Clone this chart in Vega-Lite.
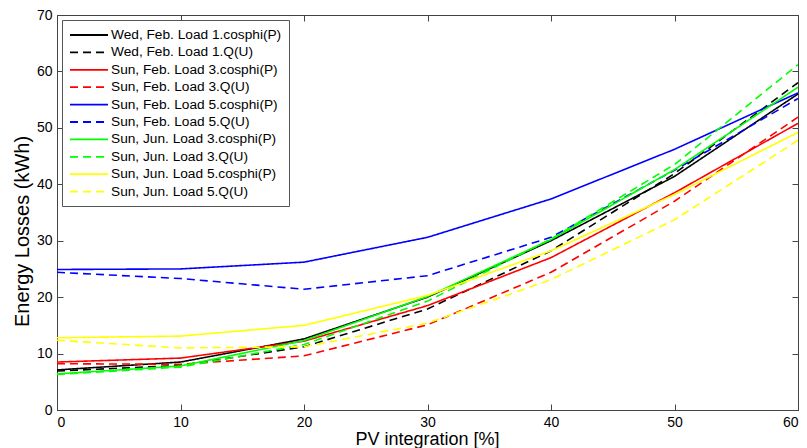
{
  "$schema": "https://vega.github.io/schema/vega-lite/v6.json",
  "width": 741,
  "height": 395,
  "autosize": {"type": "none"},
  "padding": {"left": 57, "top": 15, "right": 9, "bottom": 38},
  "background": "white",
  "config": {
    "font": "Liberation Sans",
    "view": {"stroke": "#444", "strokeWidth": 1},
    "axis": {"grid": false, "domainColor": "#444", "tickColor": "#444", "labelColor": "black", "titleColor": "black", "labelFont": "Liberation Sans", "titleFont": "Liberation Sans", "titleFontWeight": "normal", "labelFontSize": 14, "titleFontSize": 18},
    "legend": {"title": null, "orient": "none", "legendX": 5, "legendY": 5, "symbolType": "M-1,0H4.43", "symbolSize": 196, "symbolStrokeWidth": 1.8, "labelFontSize": 13.7, "labelFont": "Liberation Sans", "labelColor": "black", "rowPadding": 2.4, "padding": 7, "strokeColor": "#555", "fillColor": "white", "labelOffset": 26, "labelLimit": 300}
  },
  "data": {"values": [
    {"x": 0, "series": "Wed, Feb. Load 1.cosphi(P)", "y": 7.1},
    {"x": 10, "series": "Wed, Feb. Load 1.cosphi(P)", "y": 8.5},
    {"x": 20, "series": "Wed, Feb. Load 1.cosphi(P)", "y": 12.6},
    {"x": 30, "series": "Wed, Feb. Load 1.cosphi(P)", "y": 20.0},
    {"x": 40, "series": "Wed, Feb. Load 1.cosphi(P)", "y": 30.0},
    {"x": 50, "series": "Wed, Feb. Load 1.cosphi(P)", "y": 41.4},
    {"x": 60, "series": "Wed, Feb. Load 1.cosphi(P)", "y": 56.0},
    {"x": 0, "series": "Wed, Feb. Load 1.Q(U)", "y": 6.9},
    {"x": 10, "series": "Wed, Feb. Load 1.Q(U)", "y": 7.9},
    {"x": 20, "series": "Wed, Feb. Load 1.Q(U)", "y": 11.2},
    {"x": 30, "series": "Wed, Feb. Load 1.Q(U)", "y": 17.9},
    {"x": 40, "series": "Wed, Feb. Load 1.Q(U)", "y": 28.2},
    {"x": 50, "series": "Wed, Feb. Load 1.Q(U)", "y": 41.9},
    {"x": 60, "series": "Wed, Feb. Load 1.Q(U)", "y": 58.0},
    {"x": 0, "series": "Sun, Feb. Load 3.cosphi(P)", "y": 8.5},
    {"x": 10, "series": "Sun, Feb. Load 3.cosphi(P)", "y": 9.2},
    {"x": 20, "series": "Sun, Feb. Load 3.cosphi(P)", "y": 12.2},
    {"x": 30, "series": "Sun, Feb. Load 3.cosphi(P)", "y": 18.5},
    {"x": 40, "series": "Sun, Feb. Load 3.cosphi(P)", "y": 27.0},
    {"x": 50, "series": "Sun, Feb. Load 3.cosphi(P)", "y": 38.5},
    {"x": 60, "series": "Sun, Feb. Load 3.cosphi(P)", "y": 50.8},
    {"x": 0, "series": "Sun, Feb. Load 3.Q(U)", "y": 8.2},
    {"x": 10, "series": "Sun, Feb. Load 3.Q(U)", "y": 8.1},
    {"x": 20, "series": "Sun, Feb. Load 3.Q(U)", "y": 9.6},
    {"x": 30, "series": "Sun, Feb. Load 3.Q(U)", "y": 15.1},
    {"x": 40, "series": "Sun, Feb. Load 3.Q(U)", "y": 24.4},
    {"x": 50, "series": "Sun, Feb. Load 3.Q(U)", "y": 37.0},
    {"x": 60, "series": "Sun, Feb. Load 3.Q(U)", "y": 51.9},
    {"x": 0, "series": "Sun, Feb. Load 5.cosphi(P)", "y": 24.9},
    {"x": 10, "series": "Sun, Feb. Load 5.cosphi(P)", "y": 25.0},
    {"x": 20, "series": "Sun, Feb. Load 5.cosphi(P)", "y": 26.2},
    {"x": 30, "series": "Sun, Feb. Load 5.cosphi(P)", "y": 30.6},
    {"x": 40, "series": "Sun, Feb. Load 5.cosphi(P)", "y": 37.4},
    {"x": 50, "series": "Sun, Feb. Load 5.cosphi(P)", "y": 46.2},
    {"x": 60, "series": "Sun, Feb. Load 5.cosphi(P)", "y": 56.2},
    {"x": 0, "series": "Sun, Feb. Load 5.Q(U)", "y": 24.4},
    {"x": 10, "series": "Sun, Feb. Load 5.Q(U)", "y": 23.3},
    {"x": 20, "series": "Sun, Feb. Load 5.Q(U)", "y": 21.4},
    {"x": 30, "series": "Sun, Feb. Load 5.Q(U)", "y": 23.8},
    {"x": 40, "series": "Sun, Feb. Load 5.Q(U)", "y": 30.6},
    {"x": 50, "series": "Sun, Feb. Load 5.Q(U)", "y": 42.5},
    {"x": 60, "series": "Sun, Feb. Load 5.Q(U)", "y": 55.2},
    {"x": 0, "series": "Sun, Jun. Load 3.cosphi(P)", "y": 6.4},
    {"x": 10, "series": "Sun, Jun. Load 3.cosphi(P)", "y": 7.8},
    {"x": 20, "series": "Sun, Jun. Load 3.cosphi(P)", "y": 12.3},
    {"x": 30, "series": "Sun, Jun. Load 3.cosphi(P)", "y": 20.1},
    {"x": 40, "series": "Sun, Jun. Load 3.cosphi(P)", "y": 30.2},
    {"x": 50, "series": "Sun, Jun. Load 3.cosphi(P)", "y": 42.6},
    {"x": 60, "series": "Sun, Jun. Load 3.cosphi(P)", "y": 57.2},
    {"x": 0, "series": "Sun, Jun. Load 3.Q(U)", "y": 6.3},
    {"x": 10, "series": "Sun, Jun. Load 3.Q(U)", "y": 7.6},
    {"x": 20, "series": "Sun, Jun. Load 3.Q(U)", "y": 11.6},
    {"x": 30, "series": "Sun, Jun. Load 3.Q(U)", "y": 19.3},
    {"x": 40, "series": "Sun, Jun. Load 3.Q(U)", "y": 30.3},
    {"x": 50, "series": "Sun, Jun. Load 3.Q(U)", "y": 43.5},
    {"x": 60, "series": "Sun, Jun. Load 3.Q(U)", "y": 61.2},
    {"x": 0, "series": "Sun, Jun. Load 5.cosphi(P)", "y": 12.8},
    {"x": 10, "series": "Sun, Jun. Load 5.cosphi(P)", "y": 13.1},
    {"x": 20, "series": "Sun, Jun. Load 5.cosphi(P)", "y": 15.0},
    {"x": 30, "series": "Sun, Jun. Load 5.cosphi(P)", "y": 20.3},
    {"x": 40, "series": "Sun, Jun. Load 5.cosphi(P)", "y": 28.2},
    {"x": 50, "series": "Sun, Jun. Load 5.cosphi(P)", "y": 38.2},
    {"x": 60, "series": "Sun, Jun. Load 5.cosphi(P)", "y": 49.2},
    {"x": 0, "series": "Sun, Jun. Load 5.Q(U)", "y": 12.35},
    {"x": 10, "series": "Sun, Jun. Load 5.Q(U)", "y": 11.0},
    {"x": 20, "series": "Sun, Jun. Load 5.Q(U)", "y": 11.2},
    {"x": 30, "series": "Sun, Jun. Load 5.Q(U)", "y": 15.4},
    {"x": 40, "series": "Sun, Jun. Load 5.Q(U)", "y": 23.1},
    {"x": 50, "series": "Sun, Jun. Load 5.Q(U)", "y": 33.7},
    {"x": 60, "series": "Sun, Jun. Load 5.Q(U)", "y": 47.8}
  ]},
  "layer": [
    {
      "mark": {"type": "line", "strokeWidth": 1.6, "clip": true},
      "encoding": {
        "x": {"field": "x", "type": "quantitative", "scale": {"domain": [0, 60], "nice": false, "zero": false},
              "axis": {"orient": "bottom", "values": [0, 10, 20, 30, 40, 50, 60], "tickSize": -6, "labelPadding": 11, "title": "PV integration [%]", "titleX": 370, "titleY": 29, "titleBaseline": "middle", "titleAlign": "center"}},
        "y": {"field": "y", "type": "quantitative", "scale": {"domain": [0, 70], "nice": false},
              "axis": {"orient": "left", "values": [0, 10, 20, 30, 40, 50, 60, 70], "tickSize": -6, "labelPadding": 11, "title": "Energy Losses (kWh)", "titleAngle": -90, "titleX": -35, "titleY": 216, "titleBaseline": "middle", "titleAlign": "center", "titleFontSize": 20}},
        "color": {"field": "series", "type": "nominal",
          "scale": {"domain": ["Wed, Feb. Load 1.cosphi(P)", "Wed, Feb. Load 1.Q(U)", "Sun, Feb. Load 3.cosphi(P)", "Sun, Feb. Load 3.Q(U)", "Sun, Feb. Load 5.cosphi(P)", "Sun, Feb. Load 5.Q(U)", "Sun, Jun. Load 3.cosphi(P)", "Sun, Jun. Load 3.Q(U)", "Sun, Jun. Load 5.cosphi(P)", "Sun, Jun. Load 5.Q(U)"],
                    "range": ["#000000", "#000000", "#ff0000", "#ff0000", "#0000ff", "#0000ff", "#00ff00", "#00ff00", "#ffff00", "#ffff00"]}},
        "strokeDash": {"field": "series", "type": "nominal",
          "scale": {"domain": ["Wed, Feb. Load 1.cosphi(P)", "Wed, Feb. Load 1.Q(U)", "Sun, Feb. Load 3.cosphi(P)", "Sun, Feb. Load 3.Q(U)", "Sun, Feb. Load 5.cosphi(P)", "Sun, Feb. Load 5.Q(U)", "Sun, Jun. Load 3.cosphi(P)", "Sun, Jun. Load 3.Q(U)", "Sun, Jun. Load 5.cosphi(P)", "Sun, Jun. Load 5.Q(U)"],
                    "range": [[1, 0], [8, 5], [1, 0], [8, 5], [1, 0], [8, 5], [1, 0], [8, 5], [1, 0], [8, 5]]}}
      }
    },
    {
      "mark": {"type": "line", "opacity": 0},
      "encoding": {
        "x": {"field": "x", "type": "quantitative", "scale": {"domain": [0, 60], "nice": false, "zero": false},
              "axis": {"orient": "top", "values": [0, 10, 20, 30, 40, 50, 60], "tickSize": -6, "labels": false, "title": null}},
        "y": {"field": "y", "type": "quantitative", "scale": {"domain": [0, 70], "nice": false},
              "axis": {"orient": "right", "values": [0, 10, 20, 30, 40, 50, 60, 70], "tickSize": -6, "labels": false, "title": null}},
        "detail": {"field": "series"}
      }
    }
  ],
  "resolve": {"axis": {"x": "independent", "y": "independent"}}
}
